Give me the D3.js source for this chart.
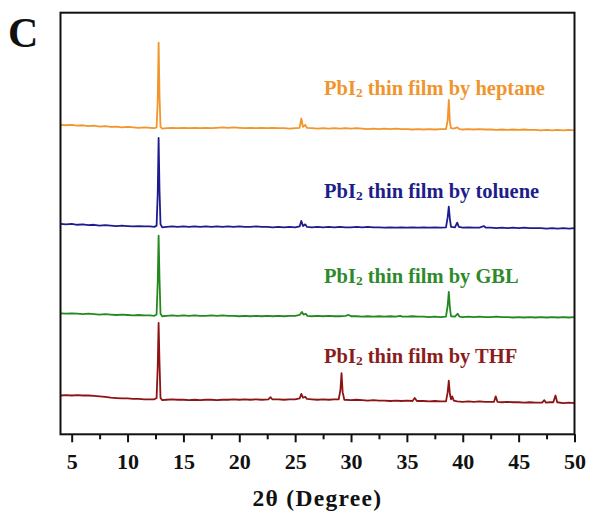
<!DOCTYPE html>
<html>
<head>
<meta charset="utf-8">
<script src="https://cdn.jsdelivr.net/npm/d3@7/dist/d3.min.js"></script>
<style>
  html, body { margin: 0; padding: 0; background: #fff; }
  svg { display: block; }
  text { font-family: "Liberation Serif", "Times New Roman", serif; font-weight: bold; }
</style>
</head>
<body>
<svg id="chart" width="592" height="516"></svg>
<script>
// XRD patterns of PbI2 thin films (2θ in degrees, stacked intensity in a.u.)
const heptane = [
  [4.0,73.4],[4.5,73.3],[5.0,73.4],[5.5,73.2],[6.0,73.3],[6.5,73.1],[7.0,73.2],[7.5,73.0],
  [8.0,73.1],[8.5,72.9],[9.0,73.0],[9.5,72.8],[10.0,72.9],[10.5,72.8],[11.0,72.7],[11.5,72.8],
  [12.0,72.7],[12.4,72.6],[12.6,72.8],[12.7,79.0],[12.78,92.9],[12.86,80.5],[12.95,72.9],[13.1,72.5],
  [13.5,72.6],[14.0,72.7],[14.5,72.6],[15.0,72.7],[15.5,72.6],[16.0,72.7],[16.5,72.6],[17.0,72.7],
  [17.5,72.6],[18.0,72.7],[18.5,72.8],[19.0,72.7],[19.5,72.8],[20.0,72.7],[20.5,72.6],[21.0,72.7],
  [21.5,72.6],[22.0,72.7],[22.5,72.6],[23.0,72.7],[23.5,72.6],[24.0,72.6],[24.5,72.5],[25.0,72.6],
  [25.4,72.7],[25.55,74.9],[25.7,72.9],[25.9,73.4],[26.05,72.7],[26.5,72.6],[27.0,72.5],[27.5,72.6],
  [28.0,72.5],[28.5,72.6],[29.0,72.5],[29.5,72.6],[30.0,72.5],[30.5,72.6],[31.0,72.5],[31.5,72.4],
  [32.0,72.5],[32.5,72.4],[33.0,72.5],[33.5,72.4],[34.0,72.5],[34.5,72.4],[35.0,72.4],[35.5,72.3],
  [36.0,72.4],[36.5,72.3],[37.0,72.4],[37.5,72.3],[38.0,72.4],[38.5,72.4],[38.65,74.5],[38.75,79.3],
  [38.85,74.0],[38.95,72.6],[39.2,72.5],[39.5,72.8],[39.7,72.4],[40.0,72.3],[40.5,72.4],[41.0,72.3],
  [41.5,72.4],[42.0,72.3],[42.5,72.3],[43.0,72.2],[43.5,72.3],[44.0,72.2],[44.5,72.3],[45.0,72.2],
  [45.5,72.3],[46.0,72.2],[46.5,72.2],[47.0,72.1],[47.5,72.2],[48.0,72.1],[48.5,72.2],[49.0,72.1],
  [49.5,72.2],[50.0,72.1]
];

const toluene = [
  [4.0,49.9],[4.5,49.8],[5.0,49.9],[5.5,49.7],[6.0,49.8],[6.5,49.6],[7.0,49.7],[7.5,49.5],
  [8.0,49.6],[8.5,49.5],[9.0,49.4],[9.5,49.5],[10.0,49.4],[10.5,49.3],[11.0,49.4],[11.5,49.3],
  [12.0,49.3],[12.4,49.2],[12.6,49.5],[12.7,57.0],[12.78,70.3],[12.86,58.0],[12.95,49.8],[13.1,49.1],
  [13.5,49.2],[14.0,49.3],[14.5,49.2],[15.0,49.3],[15.5,49.2],[16.0,49.3],[16.5,49.2],[17.0,49.3],
  [17.5,49.2],[18.0,49.3],[18.5,49.2],[19.0,49.3],[19.5,49.2],[20.0,49.3],[20.5,49.2],[21.0,49.2],
  [21.5,49.3],[22.0,49.2],[22.5,49.2],[23.0,49.1],[23.5,49.2],[24.0,49.1],[24.5,49.2],[25.0,49.1],
  [25.4,49.3],[25.55,50.6],[25.7,49.4],[25.9,49.8],[26.05,49.2],[26.5,49.1],[27.0,49.2],[27.5,49.1],
  [28.0,49.2],[28.5,49.1],[29.0,49.2],[29.5,49.1],[30.0,49.1],[30.5,49.2],[31.0,49.1],[31.5,49.2],
  [32.0,49.1],[32.5,49.1],[33.0,49.0],[33.5,49.1],[34.0,49.0],[34.5,49.1],[35.0,49.0],[35.5,49.1],
  [36.0,49.0],[36.5,49.1],[37.0,49.0],[37.5,49.1],[38.0,49.0],[38.5,49.1],[38.65,51.5],[38.75,54.0],
  [38.85,51.0],[38.95,49.2],[39.3,49.1],[39.5,50.2],[39.65,49.2],[40.0,49.0],[40.5,49.1],[41.0,49.0],
  [41.5,49.0],[41.9,49.4],[42.05,49.0],[42.5,49.0],[43.0,48.9],[43.5,49.0],[44.0,48.9],[44.5,49.0],
  [45.0,48.9],[45.5,49.0],[46.0,48.9],[46.5,48.9],[47.0,48.9],[47.5,48.8],[48.0,48.9],[48.5,48.8],
  [49.0,48.9],[49.5,48.8],[50.0,48.9]
];

const gbl = [
  [4.0,28.7],[4.5,28.6],[5.0,28.7],[5.5,28.6],[6.0,28.5],[6.5,28.6],[7.0,28.5],[7.5,28.4],
  [8.0,28.5],[8.5,28.4],[9.0,28.3],[9.5,28.4],[10.0,28.3],[10.5,28.2],[11.0,28.3],[11.5,28.2],
  [12.0,28.2],[12.4,28.1],[12.6,28.4],[12.7,36.0],[12.78,47.1],[12.86,37.0],[12.95,28.6],[13.1,28.0],
  [13.5,28.1],[14.0,28.2],[14.5,28.1],[15.0,28.2],[15.5,28.1],[16.0,28.2],[16.5,28.1],[17.0,28.1],
  [17.5,28.2],[18.0,28.1],[18.5,28.2],[19.0,28.1],[19.5,28.1],[20.0,28.0],[20.5,28.1],[21.0,28.0],
  [21.5,28.1],[22.0,28.0],[22.5,28.1],[23.0,28.0],[23.5,28.1],[24.0,28.0],[24.5,28.1],[25.0,28.1],
  [25.4,28.3],[25.6,29.0],[25.75,28.4],[25.95,28.6],[26.1,28.1],[26.5,28.0],[27.0,28.1],[27.5,28.0],
  [28.0,28.1],[28.5,28.0],[29.0,28.0],[29.5,28.1],[29.8,28.3],[30.0,28.0],[30.5,28.0],[31.0,27.9],
  [31.5,28.0],[32.0,27.9],[32.5,28.0],[33.0,27.9],[33.5,28.0],[34.0,27.9],[34.4,28.1],[34.6,27.9],
  [35.0,27.9],[35.5,28.0],[36.0,27.9],[36.5,27.9],[37.0,27.8],[37.5,27.9],[38.0,27.8],[38.5,27.9],
  [38.65,30.5],[38.75,33.8],[38.85,30.0],[38.95,28.0],[39.3,27.9],[39.55,28.6],[39.7,27.9],[40.0,27.8],
  [40.5,27.9],[41.0,27.8],[41.5,27.9],[42.0,27.8],[42.5,27.8],[43.0,27.9],[43.5,27.8],[44.0,27.8],
  [44.5,27.7],[45.0,27.8],[45.5,27.7],[46.0,27.8],[46.5,27.7],[47.0,27.8],[47.5,27.7],[48.0,27.8],
  [48.5,27.7],[49.0,27.8],[49.5,27.7],[50.0,27.8]
];

const thf = [
  [4.0,9.2],[4.5,9.3],[5.0,9.2],[5.5,9.3],[6.0,9.2],[6.5,9.2],[7.0,9.1],[7.5,9.0],
  [8.0,8.9],[8.5,8.7],[9.0,8.6],[9.5,8.5],[10.0,8.5],[10.5,8.4],[11.0,8.4],[11.5,8.3],
  [12.0,8.3],[12.4,8.3],[12.6,8.6],[12.7,16.0],[12.78,26.4],[12.86,17.0],[12.95,8.6],[13.1,8.1],
  [13.5,8.2],[14.0,8.3],[14.5,8.2],[15.0,8.2],[15.5,8.1],[16.0,8.2],[16.5,8.1],[17.0,8.2],
  [17.5,8.2],[18.0,8.1],[18.5,8.2],[19.0,8.2],[19.5,8.3],[20.0,8.2],[20.5,8.3],[21.0,8.2],
  [21.5,8.3],[22.0,8.2],[22.6,8.3],[22.8,8.8],[22.95,8.3],[23.5,8.3],[24.0,8.2],[24.5,8.3],
  [25.0,8.3],[25.4,8.5],[25.55,9.6],[25.7,8.7],[25.9,8.9],[26.05,8.4],[26.5,8.3],[27.0,8.2],
  [27.5,8.3],[28.0,8.2],[28.5,8.3],[28.9,8.3],[29.05,10.5],[29.15,14.5],[29.25,10.0],[29.4,8.2],
  [30.0,8.1],[30.5,8.2],[31.0,8.1],[31.5,8.0],[32.0,8.1],[32.5,8.0],[33.0,8.0],[33.5,7.9],
  [34.0,8.0],[34.5,7.9],[35.0,8.0],[35.5,7.9],[35.7,8.6],[35.9,7.9],[36.5,7.9],[37.0,7.8],
  [37.5,7.9],[38.0,7.8],[38.5,7.8],[38.65,10.0],[38.75,12.7],[38.85,9.5],[38.95,8.3],[39.05,9.0],
  [39.2,8.0],[39.5,7.8],[40.0,7.7],[40.5,7.8],[41.0,7.7],[41.5,7.8],[42.0,7.7],[42.5,7.7],
  [42.8,7.7],[42.95,9.0],[43.1,7.7],[43.5,7.6],[44.0,7.7],[44.5,7.6],[45.0,7.6],[45.5,7.5],
  [46.0,7.6],[46.5,7.5],[47.1,7.5],[47.3,8.1],[47.45,7.5],[47.8,7.6],[48.1,7.6],[48.3,9.2],
  [48.45,7.6],[49.0,7.4],[49.5,7.5],[50.0,7.4]
];

const seriesNames  = ["heptane", "toluene", "GBL", "THF"];
const seriesData   = [heptane, toluene, gbl, thf];
const seriesColors = ["#F2952B", "#1C1C8E", "#23891F", "#8C1414"];
const labelColors  = ["#F0952E", "#1E1E8A", "#2D8A2A", "#8A1C1C"];
const labelLevels  = [80.4, 56.0, 36.0, 17.0];   // label baseline in intensity units

const majorTicks = [5, 10, 15, 20, 25, 30, 35, 40, 45, 50];
const minorTicks = [7.5, 12.5, 17.5, 22.5, 27.5, 32.5, 37.5, 42.5, 47.5];
const xTitle = "2θ (Degree)";
const panelLetter = "C";

const svg = d3.select("#chart");
const plotLeft = 60.5, plotRight = 574.5, plotTop = 12.7, plotBottom = 434.3;

const x = d3.scaleLinear().domain([4, 50]).range([plotLeft, plotRight]);
const y = d3.scaleLinear().domain([0, 100]).range([plotBottom, plotTop]);

svg.append("clipPath").attr("id", "plotClip")
  .append("rect").attr("x", plotLeft).attr("y", plotTop)
  .attr("width", plotRight - plotLeft).attr("height", plotBottom - plotTop);

const line = d3.line().x(d => x(d[0])).y(d => y(d[1]));

const traces = svg.append("g").attr("clip-path", "url(#plotClip)");
seriesData.forEach((data, i) => {
  traces.append("path")
    .datum(data)
    .attr("d", line)
    .attr("fill", "none")
    .attr("stroke", seriesColors[i])
    .attr("stroke-width", 1.8)
    .attr("stroke-linejoin", "round");
});

// series labels
seriesNames.forEach((name, i) => {
  const t = svg.append("text")
    .attr("x", 324)
    .attr("y", y(labelLevels[i]))
    .attr("fill", labelColors[i])
    .attr("font-size", 20.5);
  t.append("tspan").text("PbI");
  t.append("tspan").attr("font-size", 13.5).attr("dy", 2).text("2");
  t.append("tspan").attr("dy", -2).text(" thin film by " + name);
});

// frame
svg.append("rect")
  .attr("x", plotLeft).attr("y", plotTop)
  .attr("width", plotRight - plotLeft).attr("height", plotBottom - plotTop)
  .attr("fill", "none").attr("stroke", "#111").attr("stroke-width", 2);

// bottom axis: major ticks with labels, minor ticks without
const axisMajor = svg.append("g")
  .attr("transform", `translate(0,${plotBottom})`)
  .call(d3.axisBottom(x).tickValues(majorTicks).tickSize(8).tickPadding(4).tickFormat(d3.format("d")));
axisMajor.select(".domain").remove();
axisMajor.selectAll(".tick line").attr("stroke", "#111").attr("stroke-width", 2);
axisMajor.selectAll(".tick text")
  .attr("font-family", "Liberation Serif, Times New Roman, serif")
  .attr("font-weight", "bold")
  .attr("font-size", 22)
  .attr("fill", "#111")
  .attr("y", 19);

const axisMinor = svg.append("g")
  .attr("transform", `translate(0,${plotBottom})`)
  .call(d3.axisBottom(x).tickValues(minorTicks).tickSize(5).tickFormat(""));
axisMinor.select(".domain").remove();
axisMinor.selectAll(".tick line").attr("stroke", "#111").attr("stroke-width", 2);

// axis title
svg.append("text")
  .attr("x", (plotLeft + plotRight) / 2)
  .attr("y", 506)
  .attr("text-anchor", "middle")
  .attr("font-size", 23.5)
  .attr("letter-spacing", 1.3)
  .attr("fill", "#111")
  .text(xTitle);

// panel letter
svg.append("text")
  .attr("x", 8)
  .attr("y", 47)
  .attr("font-size", 42)
  .attr("fill", "#111")
  .text(panelLetter);
</script>
</body>
</html>
